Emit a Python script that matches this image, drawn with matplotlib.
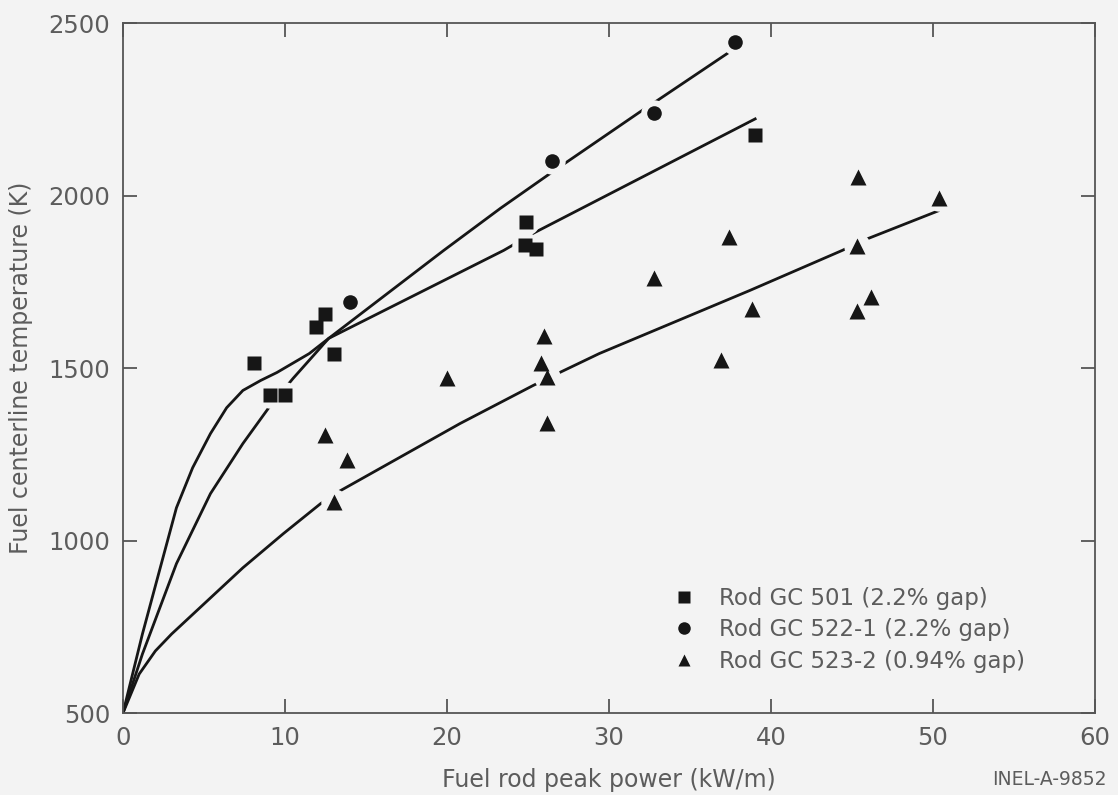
import matplotlib
matplotlib.use("Agg")
import matplotlib.pyplot as plt
from matplotlib.lines import Line2D

# measured points (kW/m, K)
gc501_x = [8.1, 9.1, 10.0, 11.9, 12.5, 13.0, 24.9, 24.8, 25.5, 39.0]
gc501_y = [1515, 1423, 1423, 1620, 1658, 1540, 1922, 1856, 1844, 2175]

gc522_x = [14.0, 26.5, 32.8, 37.8]
gc522_y = [1690, 2100, 2240, 2445]

gc523_x = [12.5, 13.8, 13.0, 20.0, 26.0, 25.8, 26.2, 26.2, 32.8, 37.4,
           36.9, 38.8, 45.4, 45.3, 45.3, 46.2, 50.4]
gc523_y = [1307, 1234, 1113, 1470, 1594, 1516, 1473, 1342, 1760, 1879,
           1522, 1670, 2053, 1853, 1664, 1705, 1992]

# fitted curves
fit501_x = [0, 1.2, 2.3, 3.3, 4.3, 5.4, 6.4, 7.4, 8.5, 9.5, 11.5, 12.7, 23.5, 25.3, 39.1]
fit501_y = [500, 729, 921, 1095, 1211, 1310, 1385, 1435, 1464, 1487, 1542, 1586, 1841, 1890, 2224]

fit522_x = [0, 1.2, 3.3, 5.4, 7.4, 9.0, 10.5, 12.7, 19.8, 23.3, 26.4, 27.3, 31.9, 33.0, 37.5]
fit522_y = [500, 671, 933, 1136, 1281, 1385, 1470, 1586, 1841, 1963, 2065, 2094, 2242, 2276, 2418]

fit523_x = [0, 1.0, 2.0, 3.0, 5.2, 7.4, 9.9, 12.2, 13.4, 20.8, 25.3, 27.0, 29.4, 38.7, 44.4, 45.7, 50.4]
fit523_y = [500, 613, 680, 729, 825, 921, 1020, 1107, 1144, 1339, 1449, 1488, 1542, 1725, 1841, 1870, 1957]

labels = ["Rod GC 501 (2.2% gap)", "Rod GC 522-1 (2.2% gap)", "Rod GC 523-2 (0.94% gap)"]

bg = "#f3f3f3"
ink = "#161616"
grey = "#5c5c5c"

plt.rcParams["font.family"] = ["DejaVu Sans"]

fig = plt.figure(figsize=(11.18, 7.95), dpi=100, facecolor=bg)
ax = fig.add_axes([0.110, 0.1031, 0.8694, 0.8679], facecolor=bg)

for fx, fy in [(fit501_x, fit501_y), (fit522_x, fit522_y), (fit523_x, fit523_y)]:
    ax.plot(fx, fy, color=ink, lw=2.0, solid_capstyle="butt", zorder=2)

# white halos around the markers break the curves like in the original drawing
for px, py in [(gc501_x, gc501_y), (gc522_x, gc522_y), (gc523_x, gc523_y)]:
    ax.plot(px, py, "o", ms=19, color=bg, mec="none", zorder=3)

ax.plot(gc501_x, gc501_y, "s", ms=10, color=ink, mec="none", zorder=4)
ax.plot(gc522_x, gc522_y, "o", ms=10.5, color=ink, mec="none", zorder=4)
ax.plot(gc523_x, gc523_y, "^", ms=11, color=ink, mec="none", zorder=4)

ax.set_xlim(0, 60)
ax.set_ylim(500, 2500)
ax.set_xticks(range(0, 61, 10))
ax.set_yticks([500, 1000, 1500, 2000, 2500])
ax.tick_params(direction="in", length=10, width=1.3, top=True, right=True,
               color="#555555", labelcolor=grey, labelsize=17.5, pad=9)
for s in ax.spines.values():
    s.set_color("#555555")
    s.set_linewidth(1.3)

ax.set_xlabel("Fuel rod peak power (kW/m)", fontsize=17, color=grey, labelpad=13)
ax.set_ylabel("Fuel centerline temperature (K)", fontsize=17, color=grey, labelpad=11)

handles = [Line2D([], [], marker=m, ls="none", color=ink, mec="none", markersize=ms)
           for m, ms in [("s", 9), ("o", 9), ("^", 9)]]
ax.legend(handles, labels, loc="upper left", bbox_to_anchor=(0.604, 0.262),
          bbox_transform=fig.transFigure, frameon=False, fontsize=16.5,
          handlelength=0.8, handletextpad=1.1, labelspacing=0.38,
          borderpad=0, borderaxespad=0, labelcolor=grey)

fig.text(0.990, 0.019, "INEL-A-9852", ha="right", va="center", fontsize=13.5, color=grey)

fig.savefig("out.png", dpi=100, facecolor=bg)
